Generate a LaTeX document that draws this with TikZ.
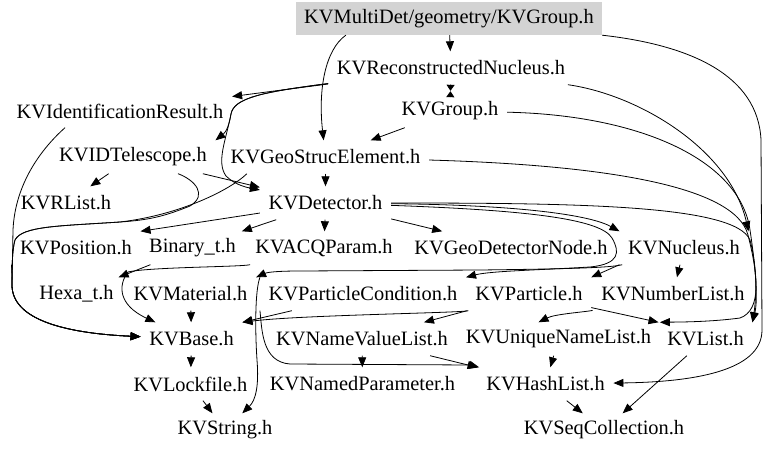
\documentclass[tikz,border=0pt]{standalone}
\usepackage{fontspec}
\setmainfont{Liberation Serif}
\usetikzlibrary{arrows.meta}
\definecolor{rootgray}{RGB}{211,211,211}
\begin{document}
\begin{tikzpicture}[x=1pt,y=-1pt,
  nd/.style={inner xsep=8.5pt, inner ysep=0pt, minimum height=33pt, anchor=center, font=\fontsize{20.4}{24}\selectfont},
  dep/.style={-{Triangle[length=10pt,width=8pt]}, line width=0.8pt},
  hg/.style={-{Triangle[length=6pt,width=8pt]}, line width=0.8pt}]
\useasboundingbox (0,0) rectangle (768,452);
% nodes
\node[nd, fill=rootgray, minimum width=306pt, inner xsep=0pt] (root) at (449,18.5) {KVMultiDet/geometry/KVGroup.h};
\node[nd] (recnuc) at (451,68) {KVReconstructedNucleus.h};
\node[nd] (idres) at (120,111) {KVIdentificationResult.h};
\node[nd] (kvgroup) at (450,111) {KVGroup.h};
\node[nd] (idtel) at (133,157) {KVIDTelescope.h};
\node[nd] (geo) at (325.5,157) {KVGeoStrucElement.h};
\node[nd] (rlist) at (66,203) {KVRList.h};
\node[nd] (det) at (325.5,203) {KVDetector.h};
\node[nd] (kvpos) at (76,248) {KVPosition.h};
\node[nd] (binary) at (192.5,248) {Binary\_t.h};
\node[nd] (acq) at (324,248) {KVACQParam.h};
\node[nd] (gdn) at (511,248) {KVGeoDetectorNode.h};
\node[nd] (nuc) at (684,248) {KVNucleus.h};
\node[nd] (hexa) at (76.5,294) {Hexa\_t.h};
\node[nd] (mat) at (190.5,294) {KVMaterial.h};
\node[nd] (pc) at (363,294) {KVParticleCondition.h};
\node[nd] (particle) at (529,294) {KVParticle.h};
\node[nd] (numlist) at (673,294) {KVNumberList.h};
\node[nd] (kvbase) at (191.5,339) {KVBase.h};
\node[nd] (nvl) at (362,339) {KVNameValueList.h};
\node[nd] (uniq) at (558.5,339) {KVUniqueNameList.h};
\node[nd] (kvlist) at (705.5,339) {KVList.h};
\node[nd] (lock) at (190.5,384) {KVLockfile.h};
\node[nd] (npar) at (362.5,384) {KVNamedParameter.h};
\node[nd] (hash) at (545.5,384) {KVHashList.h};
\node[nd] (kvstring) at (225,430) {KVString.h};
\node[nd] (seq) at (604,430) {KVSeqCollection.h};
% top
\draw[dep] (root) -- (recnuc);
\draw[dep] ([xshift=50pt]root.south west) .. controls (325,50) and (318,90) .. (geo);
\draw[dep] (root.south east) .. controls (690,45) and (758,75) .. (761,140) -- (762,330) .. controls (762,372) and (690,382) .. (hash);
\draw[hg, shorten >=3.5pt] (recnuc) -- (kvgroup);
\draw[hg, shorten >=6.5pt] (kvgroup) -- (recnuc);
\draw[dep] (recnuc) -- (idres);
\draw[dep] (recnuc) .. controls (262,92) and (234,98) .. (231,114) .. controls (229,126) and (226,132) .. (idtel.north east);
\draw[dep] (recnuc) .. controls (262,92) and (234,98) .. (231,114) .. controls (226,140) and (216,162) .. (226,176) .. controls (236,186) and (250,188) .. (det);
\draw[dep] (kvgroup) -- (geo);
\draw[dep] (idtel) -- (rlist);
\draw[dep] (idtel) -- (det);
\draw[dep] (geo) -- (det);
% right side
\draw[dep] (recnuc) .. controls (640,95) and (730,150) .. (nuc.north east);
\draw[dep] (kvgroup) .. controls (640,115) and (740,160) .. (750,230) .. controls (756,270) and (758,300) .. (kvlist.north east);
\draw[dep] (geo) .. controls (600,165) and (735,185) .. (748,235) .. controls (758,275) and (762,310) .. (740,318) .. controls (710,322) and (680,322) .. (uniq.north east);
\draw[dep] (det) .. controls (520,205) and (590,215) .. (nuc.north west);
\draw[dep] (det) .. controls (580,203) and (735,205) .. (750,240) .. controls (758,270) and (756,300) .. (kvlist.north east);
\draw[dep] (det) .. controls (520,210) and (600,218) .. (612,238) .. controls (620,252) and (620,264) .. (590,267) .. controls (540,270) and (490,271) .. (pc.north east);
% detector row
\draw[dep] (det) -- (kvpos.north east);
\draw[dep] (det) -- (binary);
\draw[dep] (det) -- (acq);
\draw[dep] (det) -- (gdn);
\draw[dep] (nuc) -- (numlist);
\draw[dep] (nuc.south west) -- (particle.north east);
\draw[dep] (nuc) .. controls (610,268) and (560,269) .. (480,270) -- (300,271) .. controls (280,271) and (268,272) .. (mat.north east);
\draw[dep] (pc.north west) .. controls (255,290) and (255,330) .. (257,360) .. controls (259,385) and (256,400) .. (kvstring);
\draw[dep] (pc.south west) .. controls (262,330) and (262,362) .. (290,364) -- (470,365) -- (hash);
\draw[dep] (pc) -- (kvbase.north east);
\draw[dep] (particle) .. controls (460,313) and (300,315) .. (kvbase.north east);
\draw[dep] (particle) -- (nvl);
\draw[dep] (particle) -- (kvlist.north west);
\draw[dep] (numlist) .. controls (585,312) and (555,314) .. ([xshift=-20pt]uniq.north);
\draw[dep] (nvl) -- (npar);
\draw[dep] (nvl) -- (hash);
\draw[dep] (uniq) -- (hash);
\draw[dep] (kvlist) -- (seq);
\draw[dep] (hash) -- (seq);
\draw[dep] (mat) -- (kvbase);
\draw[dep] (kvbase) -- (lock);
\draw[dep] (lock) -- (kvstring);
% left side
\draw[dep] (binary) -- (hexa);
\draw[dep] (acq) .. controls (240,267) and (150,267) .. (128,272) .. controls (118,285) and (118,305) .. (kvbase);
\draw[dep] ([xshift=-55pt]idres.south) .. controls (40,150) and (15,185) .. (13,230) -- (12,285) .. controls (12,318) and (60,333) .. (kvbase);
\draw[dep] ([xshift=25pt]geo.south west) .. controls (230,190) and (180,215) .. (120,222) .. controls (60,226) and (22,226) .. (15,240) .. controls (12,250) and (12,270) .. (12,285) .. controls (12,318) and (60,333) .. (kvbase);
\draw[dep] (idtel) .. controls (195,180) and (208,195) .. (190,206) .. controls (165,216) and (150,220) .. (120,222) .. controls (60,226) and (22,226) .. (15,240) .. controls (12,250) and (12,270) .. (12,285) .. controls (12,318) and (60,333) .. (kvbase);
\draw[dep] (kvpos.south west) .. controls (12,270) and (12,278) .. (12,285) .. controls (12,318) and (60,333) .. (kvbase);
\end{tikzpicture}
\end{document}
